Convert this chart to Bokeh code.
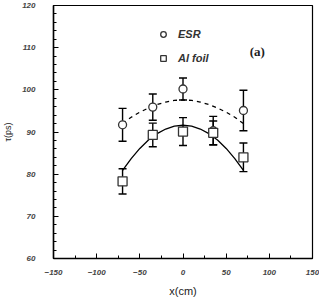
from bokeh.plotting import figure
from bokeh.models import (ColumnDataSource, Whisker, TeeHead, SingleIntervalTicker,
                          Legend, LegendItem, Label, Range1d)
from bokeh.embed import file_html
from bokeh.resources import INLINE

# data
x_pos = [-70, -35, 0, 35, 70]
esr = [91.7, 95.9, 100.2, 90.3, 95.1]
esr_err = [3.9, 3.1, 2.6, 3.4, 4.8]
foil = [78.3, 89.3, 90.1, 89.8, 84.0]
foil_err = [3.0, 2.8, 3.3, 2.8, 3.4]

fit_x = [-70, -60, -50, -40, -30, -20, -10, 0, 10, 20, 30, 40, 50, 60, 70]
esr_fit = [92.0, 93.5, 94.7, 95.7, 96.5, 97.1, 97.5, 97.6, 97.5, 97.1, 96.5, 95.7, 94.7, 93.5, 92.0]
foil_fit = [80.9, 83.7, 86.1, 88.1, 89.6, 90.7, 91.4, 91.6, 91.4, 90.7, 89.6, 88.1, 86.1, 83.7, 80.9]

p = figure(width=319, height=299, output_backend="svg", toolbar_location=None,
           x_range=Range1d(-150, 150), y_range=Range1d(60, 120),
           min_border_left=44, min_border_right=7, min_border_top=5, min_border_bottom=40)
p.outline_line_color = "black"
p.outline_line_width = 1.2
p.xgrid.visible = False
p.ygrid.visible = False
p.background_fill_color = "white"

p.xaxis.ticker = SingleIntervalTicker(interval=50, num_minor_ticks=2)
p.yaxis.ticker = SingleIntervalTicker(interval=10, num_minor_ticks=5)
for ax in (p.xaxis[0], p.yaxis[0]):
    ax.axis_line_color = "black"
    ax.axis_line_width = 1.5
    ax.major_tick_in = 5
    ax.major_tick_out = 0
    ax.minor_tick_in = 3
    ax.minor_tick_out = 0
    ax.major_tick_line_color = "black"
    ax.minor_tick_line_color = "black"
    ax.major_label_text_font = "Liberation Sans"
    ax.major_label_text_font_size = "8px"
    ax.major_label_text_font_style = "bold italic"
    ax.major_label_text_color = "#444444"
    ax.axis_label_text_font = "Liberation Sans"
    ax.axis_label_text_font_style = "normal"
    ax.axis_label_text_color = "#222222"

p.yaxis.major_label_standoff = 18
p.xaxis.major_label_standoff = 11
p.xaxis.axis_label = "x(cm)"
p.yaxis.axis_label = "τ(ps)"
p.xaxis.axis_label_text_font_size = "11px"
p.yaxis.axis_label_text_font_size = "9px"
p.xaxis.axis_label_standoff = 7
p.yaxis.axis_label_standoff = 6

# fits
p.line(fit_x, esr_fit, line_color="black", line_width=1.3, line_dash="4 4")
p.line(fit_x, foil_fit, line_color="black", line_width=1.3)

# error bars
src_e = ColumnDataSource(dict(x=x_pos, y=esr,
                              lo=[v - e for v, e in zip(esr, esr_err)],
                              hi=[v + e for v, e in zip(esr, esr_err)]))
src_f = ColumnDataSource(dict(x=x_pos, y=foil,
                              lo=[v - e for v, e in zip(foil, foil_err)],
                              hi=[v + e for v, e in zip(foil, foil_err)]))
for src in (src_e, src_f):
    w = Whisker(source=src, base="x", lower="lo", upper="hi", line_color="black",
                line_width=1.4,
                lower_head=TeeHead(size=8, line_color="black", line_width=1.4),
                upper_head=TeeHead(size=8, line_color="black", line_width=1.4))
    p.add_layout(w)

r_e = p.scatter(x_pos, esr, marker="circle", size=8, fill_color="white",
                line_color="#333333", line_width=1.3)
r_f = p.scatter(x_pos, foil, marker="square", size=9, fill_color="white",
                line_color="#333333", line_width=1.3)

legend = Legend(items=[LegendItem(label="ESR", renderers=[r_e]),
                       LegendItem(label="Al foil", renderers=[r_f])],
                location=(103, 190), orientation="vertical")
legend.border_line_color = None
legend.background_fill_alpha = 0
legend.margin = 0
legend.padding = 0
legend.spacing = 4
legend.glyph_height = 20
legend.glyph_width = 14
legend.label_standoff = 8
legend.label_text_font = "Liberation Sans"
legend.label_text_font_size = "11px"
legend.label_text_font_style = "bold italic"
legend.label_text_color = "#333333"
p.add_layout(legend)

p.add_layout(Label(x=86, y=109, text="(a)", text_font="Liberation Serif",
                   text_font_size="13px", text_font_style="bold",
                   text_align="center", text_baseline="middle", text_color="#222222"))

open("out.html", "w").write(file_html(p, INLINE))
